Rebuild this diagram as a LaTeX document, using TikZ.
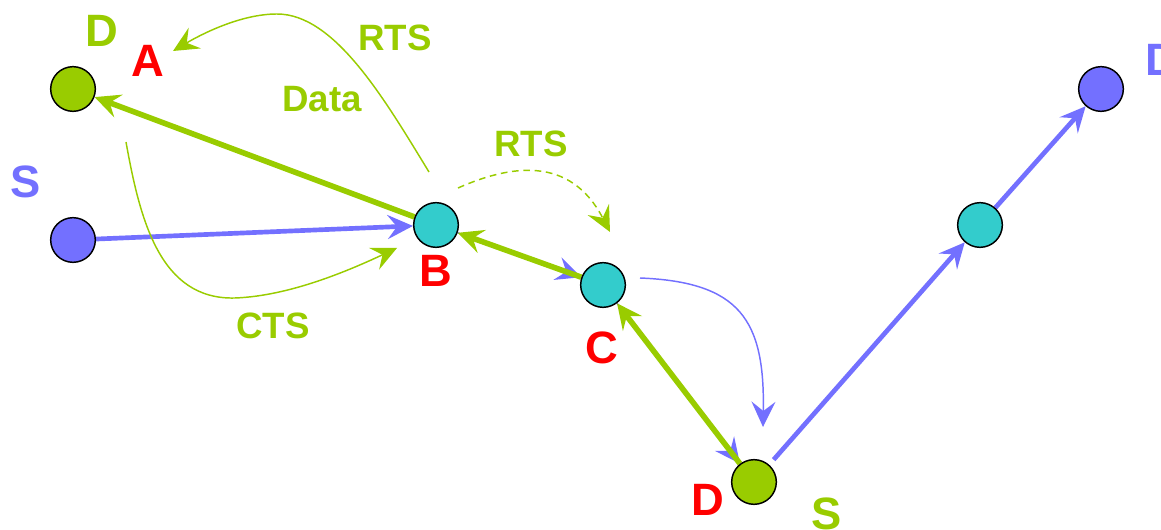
\documentclass[tikz,border=0pt]{standalone}
\usepackage{fontspec}
\setmainfont{Liberation Sans}
\usetikzlibrary{arrows.meta}
\pgfdeclarelayer{links}
\pgfsetlayers{links,main}
\definecolor{lime}{RGB}{153,204,0}
\definecolor{route}{RGB}{115,112,255}
\definecolor{relay}{RGB}{51,204,204}
\definecolor{tag}{RGB}{255,0,0}
\tikzset{
  station/.style={circle,draw=black,line width=1.1pt,minimum size=33.5pt,inner sep=0pt},
  big/.style={font=\fontsize{34}{34}\selectfont\bfseries,inner sep=0pt},
  small/.style={font=\fontsize{27.5}{27.5}\selectfont\bfseries,inner sep=0pt,text=lime},
  tipped/.style={-{Stealth[length=19pt,width=18pt,inset=7pt]}},
  heavygreen/.style={tipped,draw=lime,fill=lime,line width=4.2pt},
  heavyblue/.style={tipped,draw=route,fill=route,line width=3.5pt},
  lightgreen/.style={tipped,draw=lime,line width=1.1pt},
  lightblue/.style={tipped,draw=route,line width=1.1pt},
}
\begin{document}
\begin{tikzpicture}[x=0.75pt,y=-0.75pt]
\useasboundingbox (0,0) rectangle (1161,530);

% free ends of the curved handshake arrows
\coordinate (rtsA0) at (429,172);
\coordinate (rtsA1) at (173,51);
\coordinate (ctsB0) at (126,142);
\coordinate (ctsB1) at (397,248);
\coordinate (rtsC0) at (458,188);
\coordinate (rtsC1) at (610,232);
\coordinate (fwd0) at (640,278);
\coordinate (fwd1) at (763,427);

% stations
\node[station,fill=lime]  (A)  at (73,89)   {};
\node[station,fill=route] (S1) at (73,240)  {};
\node[station,fill=relay] (B)  at (436,225) {};
\node[station,fill=relay] (C)  at (603,285) {};
\node[station,fill=lime]  (D)  at (754,482) {};
\node[station,fill=relay] (E)  at (980,225) {};
\node[station,fill=route] (F)  at (1101,89) {};

\begin{pgfonlayer}{links}
% links between stations
\draw[heavyblue] (S1) -- (B);
\draw[heavygreen] (B) -- (A);
\draw[lightblue,fill=route] (B) -- (C);
\draw[heavygreen] (C) -- (B);
\draw[lightblue,fill=route] (C) -- (D);
\draw[heavygreen] (D) -- (C);
\draw[heavyblue,shorten <=5pt] (D) -- (E);
\draw[heavyblue] (E) -- (F);

% handshake arrows
\draw[lightgreen] (rtsA0) .. controls (385,100) and (335,14) .. (277,14)
  .. controls (240,14) and (200,35) .. (rtsA1);
\draw[lightgreen] (ctsB0) .. controls (140,220) and (160,300) .. (235,298)
  .. controls (290,296) and (350,270) .. (ctsB1);
\draw[lightgreen,dash pattern=on 5pt off 3.5pt] (rtsC0) .. controls (510,165) and (570,155) .. (rtsC1);
\draw[lightblue] (fwd0) .. controls (740,282) and (765,320) .. (fwd1);
\end{pgfonlayer}

% labels
\node[big,text=lime]  (lD1) at (102,31)  {D};
\node[big,text=tag]   (lA)  at (148,61)  {A};
\node[big,text=route] (lS1) at (26,182)  {S};
\node[big,text=tag]   (lB)  at (436,271) {B};
\node[big,text=tag]   (lC)  at (602,348) {C};
\node[big,text=tag]   (lD2) at (708,500) {D};
\node[big,text=lime]  (lS2) at (827,514) {S};
\node[big,text=route] (lD3) at (1162,60) {D};
\node[small] (rts1) at (395,38)  {RTS};
\node[small] (data) at (322,99)  {Data};
\node[small] (cts)  at (273,326) {CTS};
\node[small] (rts2) at (531,144) {RTS};
\end{tikzpicture}
\end{document}
